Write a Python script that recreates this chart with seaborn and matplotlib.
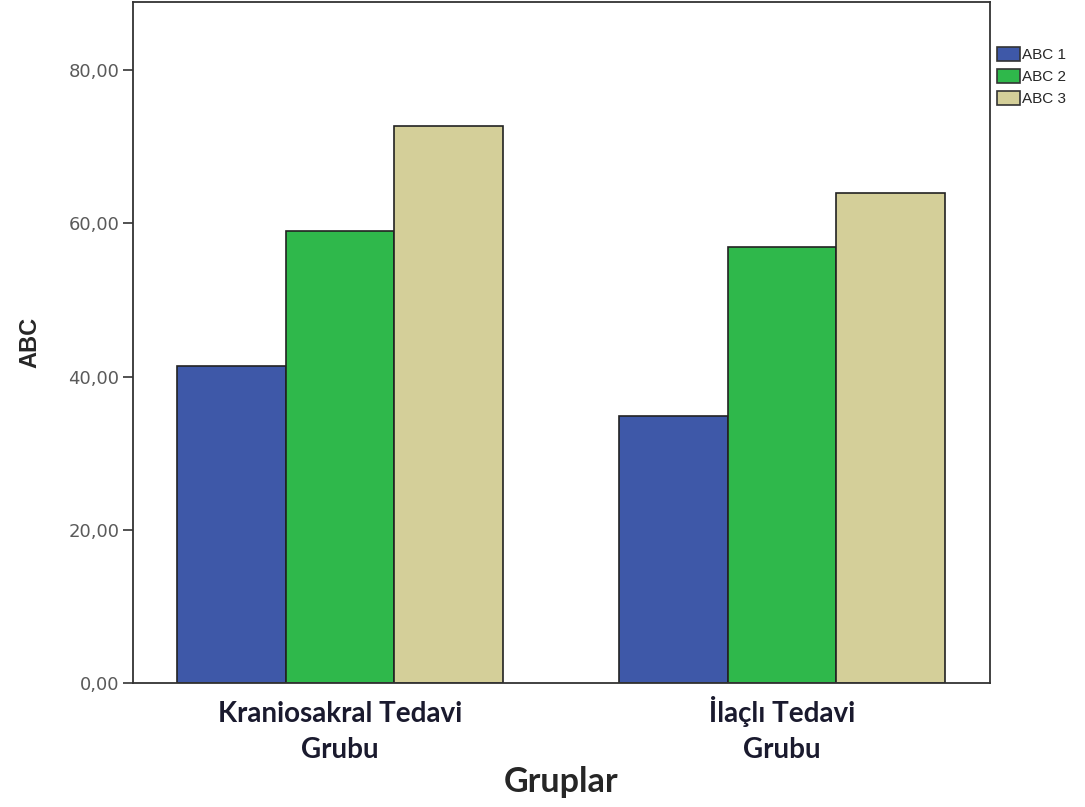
import matplotlib
matplotlib.use("Agg")
import matplotlib.pyplot as plt
import seaborn as sns
import pandas as pd
from matplotlib.patches import Patch

groups = ["Kraniosakral Tedavi\nGrubu", "İlaçlı Tedavi\nGrubu"]
series = ["ABC 1", "ABC 2", "ABC 3"]
abc1 = [41.4, 34.9]
abc2 = [59.0, 56.9]
abc3 = [72.7, 64.0]
yticks = [0, 20, 40, 60, 80]
ytick_labels = ["0,00", "20,00", "40,00", "60,00", "80,00"]
colors = ["#3e58a8", "#2fb84b", "#d4cf99"]

df = pd.DataFrame({
    "Gruplar": groups * 3,
    "Seri": [s for s in series for _ in groups],
    "ABC": abc1 + abc2 + abc3,
})

sns.set_style("white")
fig = plt.figure(figsize=(10.85, 8.07), dpi=100)
ax = fig.add_axes([0.1226, 0.1537, 0.7898, 0.8438])

sns.barplot(data=df, x="Gruplar", y="ABC", hue="Seri", palette=colors,
            width=0.737, edgecolor="#222222", linewidth=1.2, saturation=1,
            errorbar=None, legend=False, ax=ax)

ax.set_xlim(-0.468, 1.47)
ax.set_ylim(0, 88.9)
ax.set_yticks(yticks)
ax.set_yticklabels(ytick_labels, fontsize=13, color="#5a5a5a",
                   family="DejaVu Sans")
ax.tick_params(axis="y", length=7, width=1.2, color="#333333", left=True, pad=3)
# baseline alignment anchors the last line ("Grubu") at the pad distance
ax.tick_params(axis="x", length=0, pad=54)
for lab in ax.get_xticklabels():
    lab.set_fontsize(20)
    lab.set_fontweight("bold")
    lab.set_color("#1a1a2e")
    lab.set_family("Lato")
    lab.set_linespacing(1.48)
    lab.set_verticalalignment("baseline")

ax.set_ylabel("ABC", fontsize=17, fontweight="bold", family="Liberation Sans",
              labelpad=19)
ax.set_xlabel("Gruplar", fontsize=24.5, fontweight="bold", family="Lato")
ax.xaxis.set_label_coords(0.5, -0.145)
ax.xaxis.label.set_verticalalignment("center")

for sp in ax.spines.values():
    sp.set_visible(True)
    sp.set_color("#333333")
    sp.set_linewidth(1.3)

handles = [Patch(facecolor=c, edgecolor="#333333", linewidth=1.2, label=s)
           for c, s in zip(colors, series)]
fig.legend(handles=handles, loc="upper left", bbox_to_anchor=(0.909, 0.955),
           frameon=False, handlelength=1.5, handleheight=1.0,
           handletextpad=0.15, labelspacing=0.45, borderpad=0.2,
           prop={"family": "Liberation Sans", "size": 11})

fig.savefig("out.png", dpi=100)
